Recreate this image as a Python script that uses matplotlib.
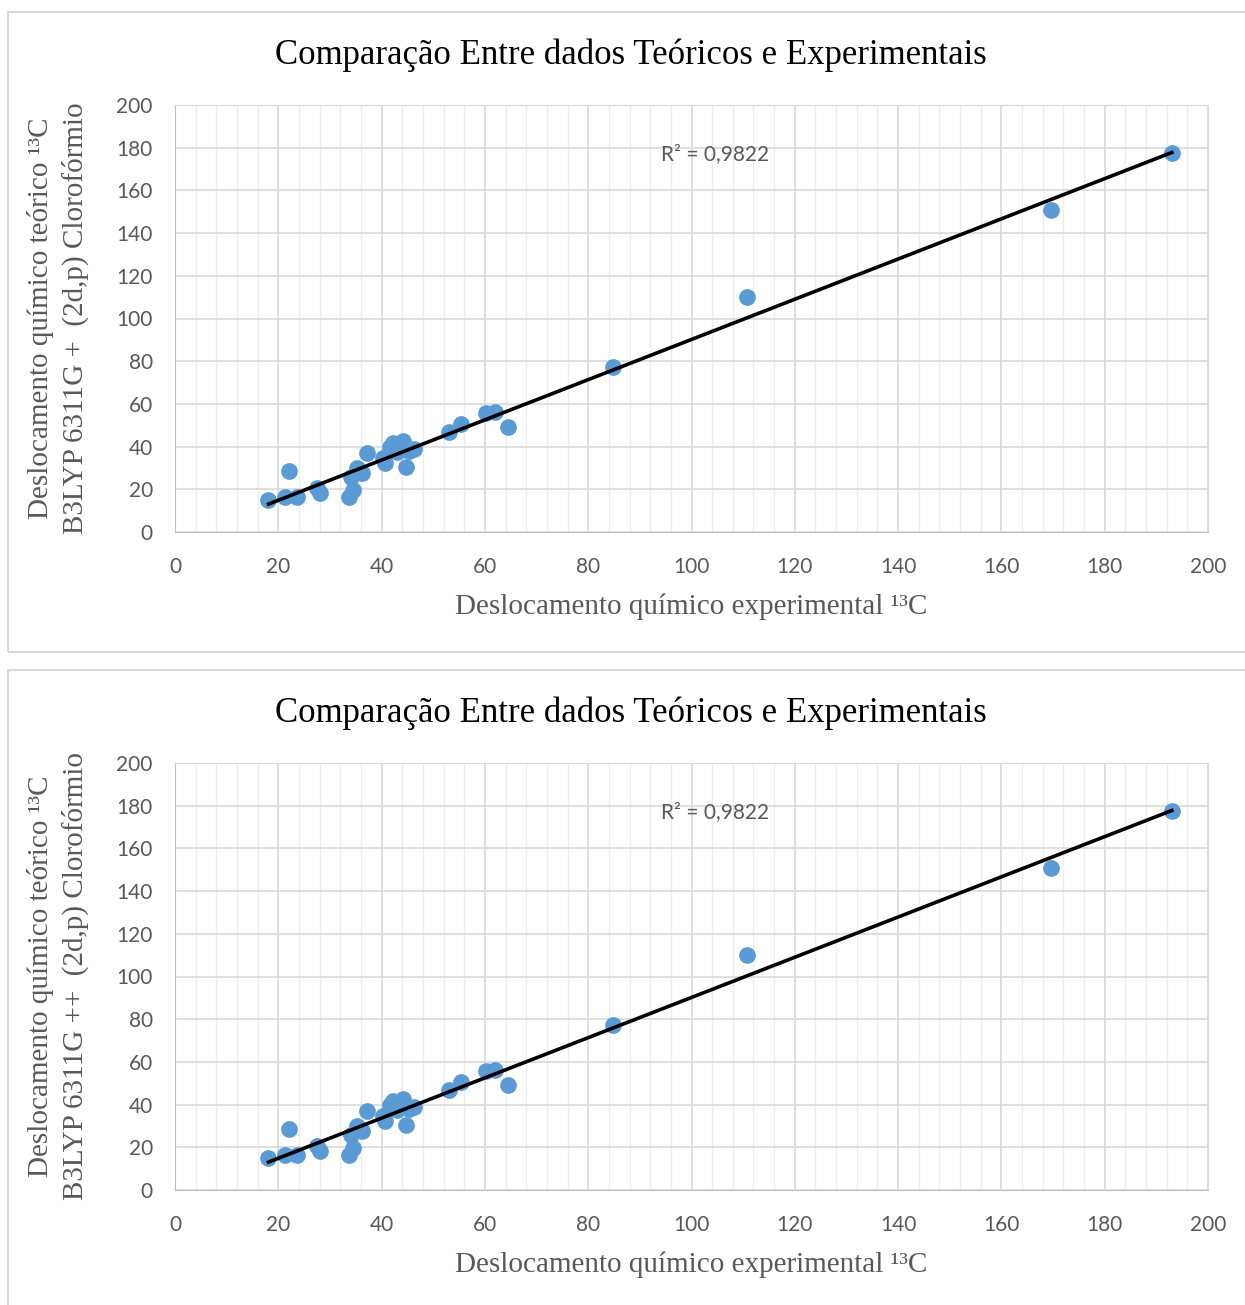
import numpy as np
import matplotlib
matplotlib.use('Agg')
import matplotlib.pyplot as plt
from matplotlib.ticker import MultipleLocator

# deslocamentos experimentais e teoricos (13C)
exp_x = [18.1, 21.3, 23.7, 22.1, 27.5, 28.1, 33.7, 34.5, 34.1, 35.3,
         36.2, 37.1, 40.3, 40.7, 41.6, 42.2, 42.9, 44.1, 44.7, 45.4,
         46.2, 53.1, 55.3, 60.3, 62.0, 64.5, 84.8, 110.7, 169.6, 193.0]
teo_y = [15.0, 16.2, 16.2, 28.7, 20.7, 18.4, 16.2, 19.7, 25.6, 29.8,
         27.8, 37.1, 34.5, 32.3, 40.0, 41.5, 37.4, 42.5, 30.6, 37.8,
         38.9, 46.8, 50.7, 55.6, 56.1, 49.0, 77.3, 110.1, 150.8, 177.5]

titulo = 'Comparação Entre dados Teóricos e Experimentais'
xlabel = 'Deslocamento químico experimental ¹³C'
ylabels = ['Deslocamento químico teórico ¹³C\nB3LYP 6311G +  (2d,p) Clorofórmio',
           'Deslocamento químico teórico ¹³C\nB3LYP 6311G ++  (2d,p) Clorofórmio']
r2_texto = 'R² = 0,9822'

serif = ['Liberation Serif', 'DejaVu Serif']
sans = ['Lato', 'DejaVu Sans']
cinza = '#595959'

fig = plt.figure(figsize=(12.45, 13.05), dpi=100)

# molduras dos dois graficos
for y0, h in [(1 - 652/1305, 640/1305), (-0.05, 1 - 670/1305 + 0.05)]:
    fig.add_artist(plt.Rectangle((8/1245, y0), 1.2, h, transform=fig.transFigure,
                                 fill=False, edgecolor='#D9D9D9', linewidth=1.5))

x = np.array(exp_x)
y = np.array(teo_y)
a, b = np.polyfit(x, y, 1)
xs = np.array([x.min(), x.max()])

posicoes = [(1 - 532/1305, 55), (1 - 1190/1305, 713)]
for k, (bottom, ty) in enumerate(posicoes):
    ax = fig.add_axes([175/1245, bottom, 1033/1245, 427/1305])
    ax.set_xlim(0, 200)
    ax.set_ylim(0, 200)
    ax.xaxis.set_major_locator(MultipleLocator(20))
    ax.xaxis.set_minor_locator(MultipleLocator(4))
    ax.yaxis.set_major_locator(MultipleLocator(20))
    ax.grid(True, which='major', color='#D9D9D9', linewidth=1.2)
    ax.grid(True, which='minor', axis='x', color='#EDEDED', linewidth=1.0)
    ax.set_axisbelow(True)
    for s in ax.spines.values():
        s.set_color('#D9D9D9')
    ax.spines['left'].set_color('#BFBFBF')
    ax.spines['bottom'].set_color('#BFBFBF')
    ax.tick_params(which='both', length=0, labelsize=15, labelcolor=cinza)
    ax.tick_params(axis='x', pad=18)
    ax.tick_params(axis='y', pad=16)
    for lab in ax.get_xticklabels() + ax.get_yticklabels():
        lab.set_family(sans)

    ax.scatter(x, y, s=145, color='#5B9BD5', zorder=3, linewidths=0)
    ax.plot(xs, a * xs + b, color='black', linewidth=2.6, zorder=4)
    ax.text(94, 177, r2_texto, fontsize=15, color=cinza, family=sans, va='center', ha='left')

    ax.set_xlabel(xlabel, fontsize=21, color=cinza, family=serif, labelpad=12)
    fig.text(58/1245, bottom + 427/1305/2, ylabels[k], rotation=90, ha='center', va='center',
             multialignment='center', fontsize=21, color=cinza, family=serif, linespacing=1.4)
    fig.text(631/1245, 1 - ty/1305, titulo, ha='center', va='center', fontsize=25,
             color='black', family=serif)

fig.savefig('out.png', dpi=100)
